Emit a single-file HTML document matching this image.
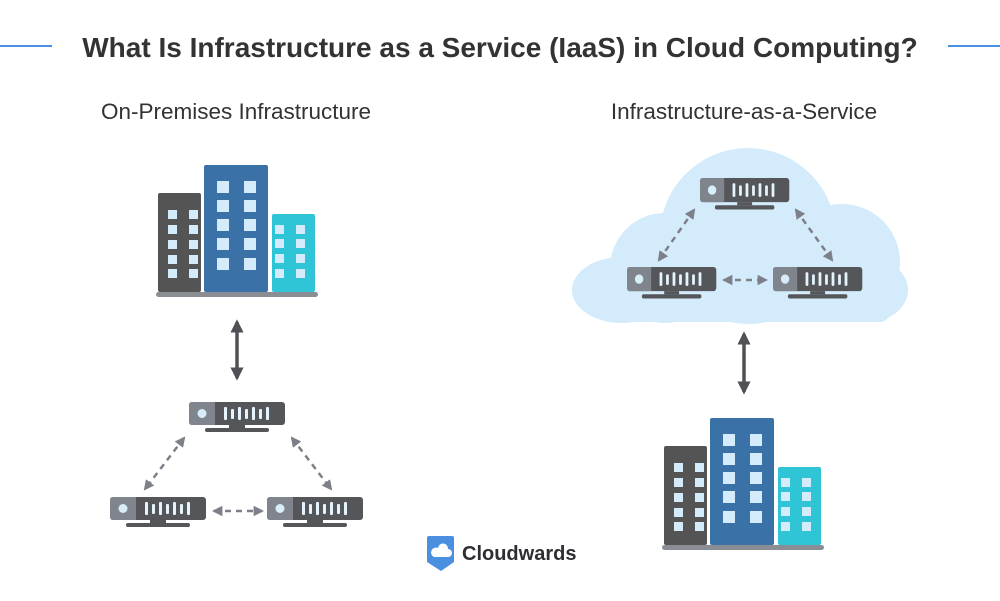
<!DOCTYPE html>
<html><head><meta charset="utf-8"><style>
html,body{margin:0;padding:0;background:#fff;}
svg{display:block;}
</style></head><body>
<svg width="1000" height="601" viewBox="0 0 1000 601" xmlns="http://www.w3.org/2000/svg">
<defs>
<g id="srv">
  <rect x="0" y="0" width="96" height="23" rx="3" fill="#54565a"/>
  <path d="M3 0 H26 V23 H3 A3 3 0 0 1 0 20 V3 A3 3 0 0 1 3 0Z" fill="#80848c"/>
  <circle cx="13" cy="11.5" r="4.5" fill="#d7eefa"/>
  <g fill="#e4f3fc">
    <rect x="35" y="5" width="3" height="13" rx="1"/>
    <rect x="42" y="7" width="3" height="10" rx="1"/>
    <rect x="49" y="5" width="3" height="13" rx="1"/>
    <rect x="56" y="7" width="3" height="10" rx="1"/>
    <rect x="63" y="5" width="3" height="13" rx="1"/>
    <rect x="70" y="7" width="3" height="10" rx="1"/>
    <rect x="77" y="5" width="3" height="13" rx="1"/>
  </g>
  <rect x="40" y="23" width="16" height="3" fill="#54565a"/>
  <rect x="16" y="26" width="64" height="4" rx="2" fill="#54565a"/>
</g>
<g id="bld">
  <rect x="158" y="193" width="43" height="99" rx="2" fill="#545454"/>
  <rect x="204" y="165" width="64" height="127" rx="2" fill="#3a72a8"/>
  <rect x="272" y="214" width="43" height="78" rx="2" fill="#2fc4d6"/>
  <rect x="156" y="292" width="162" height="5" rx="2.5" fill="#8a8d94"/>
  <g fill="#d3ebfb">
    <rect x="168" y="210" width="9" height="9"/><rect x="189" y="210" width="9" height="9"/>
    <rect x="168" y="225" width="9" height="9"/><rect x="189" y="225" width="9" height="9"/>
    <rect x="168" y="240" width="9" height="9"/><rect x="189" y="240" width="9" height="9"/>
    <rect x="168" y="255" width="9" height="9"/><rect x="189" y="255" width="9" height="9"/>
    <rect x="168" y="269" width="9" height="9"/><rect x="189" y="269" width="9" height="9"/>
    <rect x="217" y="181" width="12" height="12"/><rect x="244" y="181" width="12" height="12"/>
    <rect x="217" y="200" width="12" height="12"/><rect x="244" y="200" width="12" height="12"/>
    <rect x="217" y="219" width="12" height="12"/><rect x="244" y="219" width="12" height="12"/>
    <rect x="217" y="238" width="12" height="12"/><rect x="244" y="238" width="12" height="12"/>
    <rect x="217" y="258" width="12" height="12"/><rect x="244" y="258" width="12" height="12"/>
    <rect x="275" y="225" width="9" height="9"/><rect x="296" y="225" width="9" height="9"/>
    <rect x="275" y="239" width="9" height="9"/><rect x="296" y="239" width="9" height="9"/>
    <rect x="275" y="254" width="9" height="9"/><rect x="296" y="254" width="9" height="9"/>
    <rect x="275" y="269" width="9" height="9"/><rect x="296" y="269" width="9" height="9"/>
  </g>
</g>
<marker id="ah" viewBox="0 0 10 10" refX="8" refY="5" markerWidth="4.2" markerHeight="4.2" orient="auto-start-reverse"><path d="M0 0 L10 5 L0 10z" fill="#7d8089"/></marker>
<marker id="ahd" viewBox="0 0 10 10" refX="8" refY="5" markerWidth="3.8" markerHeight="3.8" orient="auto-start-reverse"><path d="M0 0 L10 5 L0 10z" fill="#4f5155"/></marker>
</defs>

<line x1="0" y1="46" x2="52" y2="46" stroke="#4a90e2" stroke-width="2"/>
<line x1="948" y1="46" x2="1000" y2="46" stroke="#4a90e2" stroke-width="2"/>
<text x="500" y="57" text-anchor="middle" font-family="Liberation Sans, sans-serif" font-weight="bold" font-size="28" fill="#333">What Is Infrastructure as a Service (IaaS) in Cloud Computing?</text>
<text x="236" y="119" text-anchor="middle" font-family="Liberation Sans, sans-serif" font-size="22.5" fill="#333">On-Premises Infrastructure</text>
<text x="744" y="119" text-anchor="middle" font-family="Liberation Sans, sans-serif" font-size="22.5" fill="#333">Infrastructure-as-a-Service</text>

<use href="#bld"/>
<use href="#bld" transform="translate(506,253)"/>

<line x1="237" y1="322" x2="237" y2="378" stroke="#4f5155" stroke-width="3.5" marker-start="url(#ahd)" marker-end="url(#ahd)"/>
<line x1="744" y1="334" x2="744" y2="392" stroke="#4f5155" stroke-width="3.5" marker-start="url(#ahd)" marker-end="url(#ahd)"/>

<use href="#srv" x="189" y="402"/>
<use href="#srv" x="110" y="497"/>
<use href="#srv" x="267" y="497"/>
<g stroke="#7d8089" stroke-width="2.5" stroke-dasharray="6 5" fill="none">
  <line x1="184" y1="438" x2="145" y2="489" marker-start="url(#ah)" marker-end="url(#ah)"/>
  <line x1="292" y1="438" x2="331" y2="489" marker-start="url(#ah)" marker-end="url(#ah)"/>
  <line x1="214" y1="511" x2="262" y2="511" marker-start="url(#ah)" marker-end="url(#ah)"/>
</g>

<g fill="#d3ebfb">
  <circle cx="748" cy="236" r="88"/>
  <circle cx="665" cy="268" r="55"/>
  <ellipse cx="622" cy="290" rx="50" ry="33"/>
  <circle cx="842" cy="262" r="58"/>
  <ellipse cx="868" cy="290" rx="40" ry="32"/>
  <rect x="600" y="270" width="290" height="52" rx="10"/>
</g>
<g transform="translate(700,178) scale(0.93,1.05)"><use href="#srv"/></g>
<g transform="translate(627,267) scale(0.93,1.05)"><use href="#srv"/></g>
<g transform="translate(773,267) scale(0.93,1.05)"><use href="#srv"/></g>
<g stroke="#7d8089" stroke-width="2.5" stroke-dasharray="6 5" fill="none">
  <line x1="694" y1="210" x2="659" y2="260" marker-start="url(#ah)" marker-end="url(#ah)"/>
  <line x1="796" y1="210" x2="832" y2="260" marker-start="url(#ah)" marker-end="url(#ah)"/>
  <line x1="724" y1="280" x2="766" y2="280" marker-start="url(#ah)" marker-end="url(#ah)"/>
</g>

<path d="M429 536 H452 A2 2 0 0 1 454 538 V562 L441 571 L427 562 V538 A2 2 0 0 1 429 536Z" fill="#4a8fe0"/>
<path d="M434 557 H448 A4 4 0 0 0 448 549 A5 5 0 0 0 438 548 A4.5 4.5 0 0 0 434 557Z" fill="#fff"/>
<text x="462" y="560" font-family="Liberation Sans, sans-serif" font-weight="bold" font-size="20" fill="#2d2d33">Cloudwards</text>
</svg>
</body></html>
